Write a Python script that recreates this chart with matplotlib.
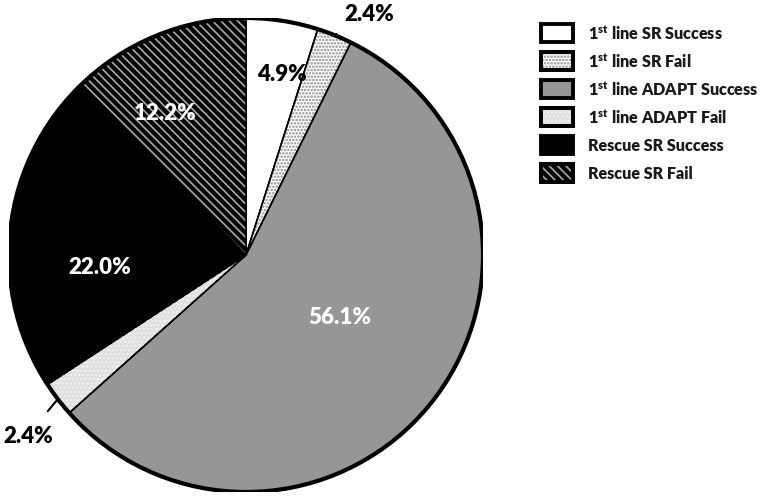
import numpy as np
import matplotlib
matplotlib.use("Agg")
import matplotlib.pyplot as plt
from matplotlib.patches import Wedge, Rectangle, Circle

plt.rcParams['font.family'] = ['Lato', 'DejaVu Sans']
plt.rcParams['font.weight'] = 'heavy'
plt.rcParams['mathtext.fontset'] = 'custom'
plt.rcParams['mathtext.bf'] = 'Lato:heavy'
plt.rcParams['mathtext.rm'] = 'Lato:heavy'
plt.rcParams['hatch.linewidth'] = 1.2

# ---- data ----
categories = ["1$^{\\mathbf{st}}$ line SR Success", "1$^{\\mathbf{st}}$ line SR Fail",
              "1$^{\\mathbf{st}}$ line ADAPT Success", "1$^{\\mathbf{st}}$ line ADAPT Fail",
              "Rescue SR Success", "Rescue SR Fail"]
values = [4.9, 2.4, 56.1, 2.4, 22.0, 12.2]
labels = ["4.9%", "2.4%", "56.1%", "2.4%", "22.0%", "12.2%"]

# ---- styles ----
faces = ["white", "white", "#969696", "#e0e0e0", "black", "black"]
hatches = [None, ".....", None, "....", None, "\\\\\\\\"]
hatch_colors = [None, "#8a8a8a", None, "#f2f2f2", None, "#aaaaaa"]
text_colors = ["black", "black", "white", "black", "white", "white"]
label_dist = [0.78, None, 0.475, None, 0.62, 0.69]
label_angle_shift = [-2.5, 0, 4, 0, 11, 7.5]
outside_xy = {1: (0.52, 1.02), 3: (-0.92, -0.76)}

W, H = 765, 502
fig = plt.figure(figsize=(W / 100, H / 100), dpi=100)
cx, cy, R = 246, 256, 237
ax = fig.add_axes([(cx - R) / W, (H - cy - R) / H, 2 * R / W, 2 * R / H])
ax.set_xlim(-1, 1)
ax.set_ylim(-1, 1)
ax.set_aspect('equal')
ax.axis('off')

total = sum(values)
start = 90.0
for i, v in enumerate(values):
    sweep = 360.0 * v / total
    t1, t2 = start - sweep, start
    ax.add_patch(Wedge((0, 0), 1, t1, t2, facecolor=faces[i], edgecolor='black',
                       linewidth=1.1, zorder=2))
    if hatches[i]:
        ax.add_patch(Wedge((0, 0), 1, t1, t2, facecolor='none', edgecolor=hatch_colors[i],
                           hatch=hatches[i], linewidth=0, zorder=3))
        ax.add_patch(Wedge((0, 0), 1, t1, t2, facecolor='none', edgecolor='black',
                           linewidth=1.1, zorder=4))
    mid = np.deg2rad((t1 + t2) / 2 + label_angle_shift[i])
    if i in outside_xy:
        px, py = np.cos(np.deg2rad((t1 + t2) / 2)), np.sin(np.deg2rad((t1 + t2) / 2))
        ax.annotate(labels[i], xy=(px, py), xytext=outside_xy[i], ha='center', va='center',
                    fontsize=16, fontweight='heavy', color='black',
                    arrowprops=dict(arrowstyle='-', color='black', lw=1.5,
                                    shrinkA=10, shrinkB=0), zorder=6, annotation_clip=False)
    else:
        d = label_dist[i]
        ax.text(d * np.cos(mid), d * np.sin(mid), labels[i], ha='center', va='center',
                fontsize=16, fontweight='heavy', color=text_colors[i], zorder=6)
    start = t1

ax.add_patch(Circle((0, 0), 1, facecolor='none', edgecolor='black', linewidth=3.0, zorder=5))

# ---- legend ----
row_y0, row_dy = 34, 28
box_x, box_w, box_h = 541, 32, 18
text_x = 588
for i, cat in enumerate(categories):
    yc = row_y0 + row_dy * i
    rect_kw = dict(transform=fig.transFigure, figure=fig)
    xy = (box_x / W, (H - yc - box_h / 2) / H)
    fig.patches.append(Rectangle(xy, box_w / W, box_h / H,
                                 facecolor=faces[i], edgecolor='black', linewidth=2.8, **rect_kw))
    if hatches[i]:
        fig.patches.append(Rectangle(xy, box_w / W, box_h / H,
                                     facecolor='none', edgecolor=hatch_colors[i], hatch=hatches[i],
                                     linewidth=0, **rect_kw))
        fig.patches.append(Rectangle(xy, box_w / W, box_h / H,
                                     facecolor='none', edgecolor='black', linewidth=2.8, **rect_kw))
    fig.text(text_x / W, (H - yc) / H, cat, ha='left', va='center', fontsize=11.6,
             fontweight='heavy', color='#1a1a1a')

fig.savefig("out.png", dpi=100)
